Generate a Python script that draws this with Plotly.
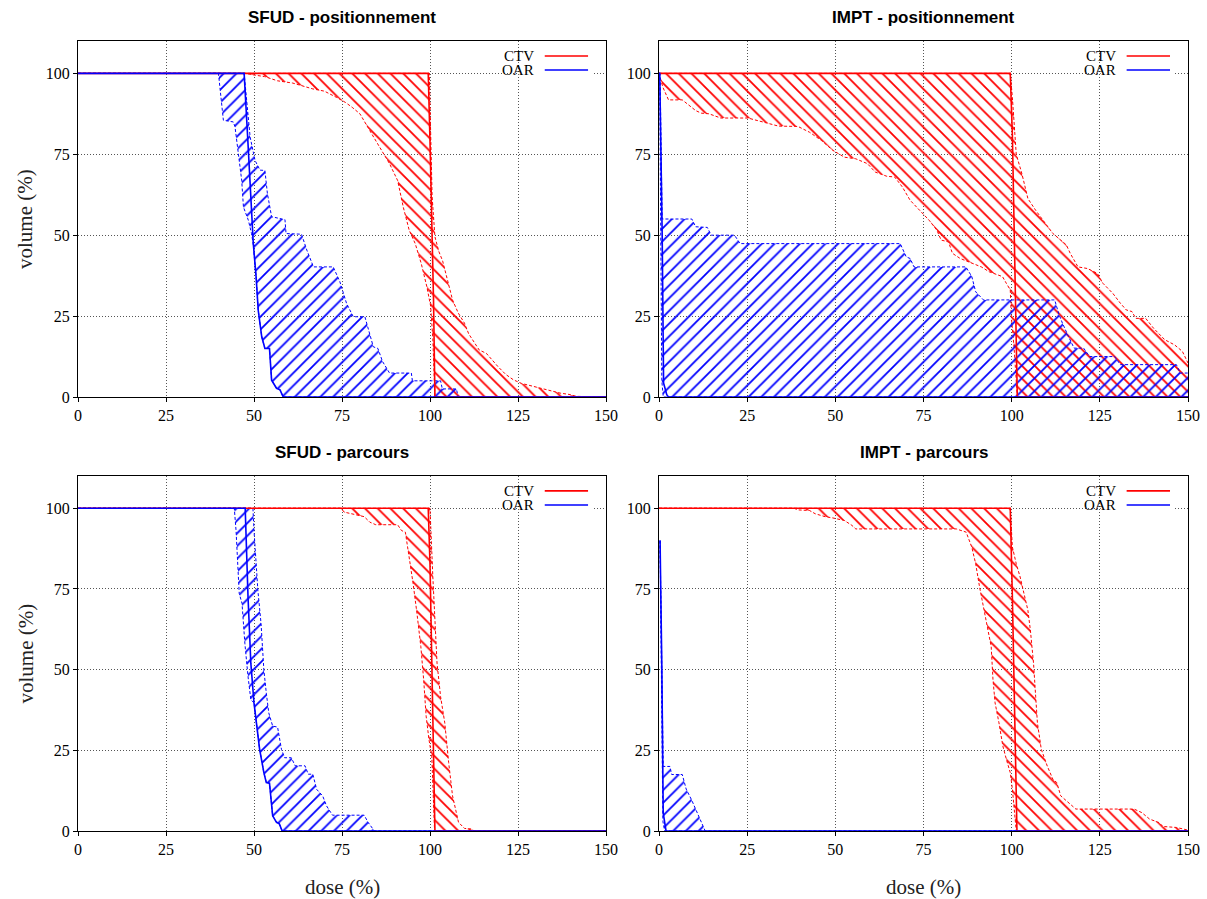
import plotly.graph_objects as go

# ---------------- dose-volume histograms: dose (%) / volume (%) ----------------
# Panel 1: SFUD - positionnement
SP_CTV_NOM_D = [0, 99.5, 100.0, 100.6, 101.0, 101.4, 150]
SP_CTV_NOM_V = [100, 100, 79, 50, 30, 0, 0]
SP_CTV_LO_D = [0, 47.5, 50, 53, 56.7, 61, 66.7, 70, 73.4, 76, 77.9, 80.1, 82.9, 85.7, 88.5,
               90.8, 92.4, 94.1, 95.8, 97.5, 99.1, 100.2, 100.8, 101.4, 150]
SP_CTV_LO_V = [100, 100, 99.5, 99, 97.7, 97, 95.2, 94.5, 92.6, 91, 89.5, 87.5, 82.3, 77.2, 72.1,
               66.9, 58.7, 51.5, 47.4, 41.3, 34.1, 28, 18, 0, 0]
SP_CTV_HI_D = [0, 99.8, 100.6, 101.4, 102.5, 103.6, 105, 106.4, 108, 109.8, 111, 112.6, 114, 116,
               117.5, 119.3, 121.5, 123.7, 126, 129.3, 133, 137, 139.5, 141.6, 150]
SP_CTV_HI_V = [100, 100, 62, 49.5, 45, 42, 36, 30, 26, 22.8, 19.5, 16.6, 14.5, 13.5,
               11.5, 9.4, 7, 5.3, 4.2, 3.3, 2.2, 1.2, 0.8, 0.2, 0]
SP_OAR_NOM_D = [0, 47.2, 48.2, 49.1, 49.8, 50.6, 51.2, 52.2, 53.1, 54.4, 55.0, 56.4, 57.4, 58.3, 150]
SP_OAR_NOM_V = [100, 100, 80.3, 60.8, 47.4, 37.1, 26.8, 18.6, 15.0, 15.0, 5.2, 2.7, 2.2, 0, 0]
SP_OAR_LO_D = [0, 39.9, 41.3, 44.1, 44.6, 45.5, 46.5, 47.0, 48.4, 49.3, 49.8, 50.6, 51.2, 52.2,
               53.1, 54.4, 55.0, 56.4, 57.4, 58.3, 150]
SP_OAR_LO_V = [100, 100, 85.5, 85, 83.5, 75.2, 67, 58.7, 54.6, 50.5, 47, 37, 26.8, 18.6,
               15, 15, 5.2, 2.7, 2.2, 0, 0]
SP_OAR_HI_D = [0, 47.2, 48.9, 50.3, 51.7, 53.1, 53.8, 55.0, 58.8, 59.1, 63.5, 65.0, 66.9, 72.5,
               74.4, 76.3, 78.2, 81.5, 83.9, 85.2, 86.5, 88.5, 94.7, 95.0, 103.0, 103.5, 107.5,
               108.0, 150]
SP_OAR_HI_V = [100, 100, 80.3, 73.1, 70.1, 70, 62.9, 55.7, 54.8, 50.5, 50.3, 45.4, 40.2, 40.2,
               35.6, 28.9, 24.8, 24.8, 15.5, 15, 11, 7.4, 7.4, 5, 5, 2.5, 2.5, 0, 0]

# Panel 2: IMPT - positionnement
IP_CTV_NOM_D = [0, 99.6, 100.2, 100.7, 101.3, 101.6, 150]
IP_CTV_NOM_V = [100, 100, 81, 50.5, 19.7, 0, 0]
IP_CTV_LO_D = [0, 1.1, 2.7, 6.6, 10.4, 12, 14.2, 17.5, 25.2, 29.6, 33.9, 39.4, 42.7, 46, 48.2,
               49.3, 52.6, 55.8, 59.1, 61.3, 64.6, 66.8, 69, 71.2, 73.9, 76.6, 78.8, 80, 82.1,
               83.2, 85.4, 88.7, 91.4, 93.6, 97.4, 98.5, 99.6, 99.9, 100.7, 101.6, 150]
IP_CTV_LO_V = [100, 95.7, 91.8, 91.8, 88.5, 87.7, 87.5, 86.2, 86.2, 84.9, 83.7, 83.6, 81.8, 79.3,
               77.2, 76.2, 74.1, 73.6, 72.1, 69.5, 68.2, 68, 64.9, 60.8, 57.7, 54.6, 51.5, 48.5,
               47.9, 44.4, 42.8, 41.3, 40.2, 38.7, 37.2, 35.1, 33.1, 24.8, 15, 0, 0]
IP_CTV_HI_D = [0, 99.6, 100.2, 101.3, 102.9, 104.6, 106.8, 108.9, 111.7, 113.9, 115.5, 116.6,
               118.8, 121.5, 124.3, 125.9, 128.7, 130.8, 132.5, 134.1, 135.2, 138, 140.2, 143.4,
               146.2, 148.4, 150]
IP_CTV_HI_V = [100, 100, 92.6, 75, 69, 61.3, 57.7, 54.6, 50.5, 48.5, 47, 44.4, 40.2, 39.7, 38.2,
               35.1, 32, 29, 26.9, 26.4, 24.3, 24.3, 21.3, 17.7, 16.1, 14.1, 10.5]
IP_OAR_NOM_D = [0, 0.2, 0.9, 1.3, 2.2, 2.7, 150]
IP_OAR_NOM_V = [100, 100, 50.5, 4.3, 0.7, 0, 0]
IP_OAR_LO_D = [0, 0.2, 0.5, 0.8, 1.2, 150]
IP_OAR_LO_V = [100, 100, 50, 5, 0, 0]
IP_OAR_HI_D = [0, 0.3, 0.9, 9.3, 10.4, 13.7, 14.8, 21.4, 23, 68.4, 70.1, 71.2, 72.3, 87, 88.7,
               89.8, 92, 112.2, 113.3, 114.4, 116.1, 117.7, 120.4, 122.1, 129.2, 130.8, 146.7,
               147.8, 150]
IP_OAR_HI_V = [100, 100, 55, 55, 52.6, 52.4, 50, 50, 47.4, 47.4, 43.3, 42.8, 40.2, 40.2, 37.2,
               32.5, 30, 30, 25.9, 22.8, 18.7, 15.1, 15.1, 12.5, 12.5, 10, 10, 7.4, 7.4]

# Panel 3: SFUD - parcours
SR_CTV_NOM_D = [0, 99.5, 100.0, 100.6, 101.0, 101.4, 150]
SR_CTV_NOM_V = [100, 100, 82.8, 52, 21, 0, 0]
SR_CTV_LO_D = [0, 74.5, 75.7, 77.9, 81.3, 82.9, 84.6, 90.8, 91.9, 93.0, 94.1, 95.2, 96.3, 97.4,
               98.2, 98.9, 99.7, 100.5, 101.3, 150]
SR_CTV_LO_V = [100, 100, 98.8, 98.3, 97.4, 95.7, 94.9, 94.9, 93.1, 92.6, 84.9, 76.7, 67.4, 57.1,
               46.9, 35.6, 28.4, 23.2, 0, 0]
SR_CTV_HI_D = [0, 100.0, 100.8, 101.4, 102.0, 103.0, 104.2, 105.3, 106.4, 108.1, 109.8, 112.0,
               112.5, 150]
SR_CTV_HI_V = [100, 100, 78.9, 67.4, 52, 41.7, 33.5, 21.2, 10.9, 2.7, 0.8, 0.6, 0, 0]
SR_OAR_NOM_D = [0, 47.5, 48.3, 49.1, 50.0, 50.9, 51.6, 52.8, 53.5, 54.4, 55.3, 56.4, 57.2, 58.0, 150]
SR_OAR_NOM_V = [100, 100, 72.6, 52, 39.7, 31.5, 25.3, 18.1, 15, 14.8, 4.7, 2.7, 2.2, 0, 0]
SR_OAR_LO_D = [0, 44.4, 44.9, 45.8, 46.6, 47.4, 48.3, 49.1, 50.0, 50.9, 51.6, 52.8, 53.5, 54.4,
               55.3, 56.4, 57.2, 58.0, 150]
SR_OAR_LO_V = [100, 100, 93.1, 73.6, 70.5, 58.2, 47.9, 40.7, 39.7, 31.5, 25.3, 18.1, 15, 14.8,
               4.7, 2.7, 2.2, 0, 0]
SR_OAR_HI_D = [0, 49.7, 50.0, 51.1, 52.0, 52.8, 53.5, 54.2, 55.3, 56.7, 57.8, 58.7, 60.6, 61.7,
               64.5, 65.4, 66.7, 67.8, 69.5, 70.6, 72.3, 81.3, 82.4, 84.0, 84.2, 150]
SR_OAR_HI_V = [100, 100, 93.1, 74.6, 64.3, 49.9, 42.7, 36.6, 32.5, 32.2, 25.3, 22.7, 22.7, 20.2,
               20.2, 17.6, 17.6, 12.9, 10.9, 7.8, 4.9, 4.9, 2.7, 0.6, 0, 0]

# Panel 4: IMPT - parcours
IR_CTV_NOM_D = [0, 99.6, 100.2, 100.7, 101.3, 101.5, 150]
IR_CTV_NOM_V = [100, 100, 72.6, 41.8, 10.9, 0, 0]
IR_CTV_LO_D = [0, 38.3, 39.4, 42.7, 44.3, 47.1, 49.3, 52.6, 54.7, 55.8, 84.3, 87.1, 88.7, 89.8,
               90.9, 92.0, 93.1, 94.2, 94.7, 95.3, 96.4, 97.5, 98.5, 99.6, 100.2, 100.7, 101.3, 150]
IR_CTV_LO_V = [100, 100, 99.5, 99.3, 98.3, 97.4, 97, 96.2, 94.7, 93.6, 93.6, 92.6, 87.9, 82.8,
               75.6, 69.4, 64.3, 57.1, 46.9, 39.7, 33.5, 26.3, 22.2, 18.1, 13, 5.8, 0, 0]
IR_CTV_HI_D = [0, 99.6, 100.2, 101.3, 102.4, 103.5, 104.6, 105.3, 106.2, 106.8, 107.3, 108.4,
               110.1, 111.7, 112.8, 113.9, 116.1, 118.2, 134.7, 136.9, 139.1, 141.8, 142.9,
               146.7, 149.5, 150]
IR_CTV_HI_V = [100, 100, 88, 82.8, 78.7, 73.6, 68.4, 62.3, 52, 41.8, 33.5, 25.3, 20.1, 16, 15,
               10.9, 8.8, 6.8, 6.8, 5.7, 3.7, 2.6, 1.4, 1.1, 0.4, 0.3]
IR_OAR_NOM_D = [0.3, 0.5, 0.8, 1.2, 2.0, 150]
IR_OAR_NOM_V = [90, 75, 51, 5.5, 0, 0]
IR_OAR_LO_D = [0.3, 0.5, 0.8, 1.1, 1.6, 150]
IR_OAR_LO_V = [90, 70, 40, 3, 0, 0]
IR_OAR_HI_D = [0.3, 0.6, 1.0, 1.2, 3.1, 3.6, 6.6, 7.7, 9.3, 11.0, 12.6, 13.1, 150]
IR_OAR_HI_V = [90, 60, 25, 20, 20, 17.5, 17.5, 13, 9.5, 5, 1, 0, 0]

TITLES = ["SFUD - positionnement", "IMPT - positionnement", "SFUD - parcours", "IMPT - parcours"]
X_TICKS = [0, 25, 50, 75, 100, 125, 150]
Y_TICKS = [0, 25, 50, 75, 100]

RED = "#ff0000"
BLUE = "#0000ff"
SERIF = "Liberation Serif"
SANS = "Liberation Sans"

W, H = 1207, 899
# plot-area boxes in pixels: (left, right) and (top, bottom)
COLS = [(78, 606), (659, 1188)]
ROWS = [(41, 397), (476, 831)]

panels = [
    dict(ctv=(SP_CTV_NOM_D, SP_CTV_NOM_V, SP_CTV_LO_D, SP_CTV_LO_V, SP_CTV_HI_D, SP_CTV_HI_V),
         oar=(SP_OAR_NOM_D, SP_OAR_NOM_V, SP_OAR_LO_D, SP_OAR_LO_V, SP_OAR_HI_D, SP_OAR_HI_V)),
    dict(ctv=(IP_CTV_NOM_D, IP_CTV_NOM_V, IP_CTV_LO_D, IP_CTV_LO_V, IP_CTV_HI_D, IP_CTV_HI_V),
         oar=(IP_OAR_NOM_D, IP_OAR_NOM_V, IP_OAR_LO_D, IP_OAR_LO_V, IP_OAR_HI_D, IP_OAR_HI_V)),
    dict(ctv=(SR_CTV_NOM_D, SR_CTV_NOM_V, SR_CTV_LO_D, SR_CTV_LO_V, SR_CTV_HI_D, SR_CTV_HI_V),
         oar=(SR_OAR_NOM_D, SR_OAR_NOM_V, SR_OAR_LO_D, SR_OAR_LO_V, SR_OAR_HI_D, SR_OAR_HI_V)),
    dict(ctv=(IR_CTV_NOM_D, IR_CTV_NOM_V, IR_CTV_LO_D, IR_CTV_LO_V, IR_CTV_HI_D, IR_CTV_HI_V),
         oar=(IR_OAR_NOM_D, IR_OAR_NOM_V, IR_OAR_LO_D, IR_OAR_LO_V, IR_OAR_HI_D, IR_OAR_HI_V)),
]

fig = go.Figure()
annotations = []
shapes = []
layout_axes = {}


def band(xa, ya, hi_d, hi_v, lo_d, lo_v, color, shape):
    dash = dict(color=color, width=1, dash="3px,2px")
    fig.add_trace(go.Scatter(x=hi_d, y=hi_v, mode="lines", line=dash,
                             xaxis=xa, yaxis=ya, showlegend=False, hoverinfo="skip"))
    fig.add_trace(go.Scatter(x=lo_d, y=lo_v, mode="lines", line=dash,
                             fill="tonexty", fillcolor="rgba(255,255,255,0)",
                             fillpattern=dict(shape=shape, fgcolor=color, fgopacity=1,
                                              bgcolor="rgba(255,255,255,0)",
                                              size=9, solidity=0.2),
                             xaxis=xa, yaxis=ya, showlegend=False, hoverinfo="skip"))


for i, p in enumerate(panels):
    n = i + 1
    xa = "x" if n == 1 else f"x{n}"
    ya = "y" if n == 1 else f"y{n}"
    col, row = i % 2, i // 2
    (l, r), (t, b) = COLS[col], ROWS[row]
    xdom = [l / W, r / W]
    ydom = [(H - b) / H, (H - t) / H]

    c_nd, c_nv, c_ld, c_lv, c_hd, c_hv = p["ctv"]
    o_nd, o_nv, o_ld, o_lv, o_hd, o_hv = p["oar"]

    band(xa, ya, c_hd, c_hv, c_ld, c_lv, RED, "\\")
    band(xa, ya, o_hd, o_hv, o_ld, o_lv, BLUE, "/")
    fig.add_trace(go.Scatter(x=c_nd, y=c_nv, mode="lines", line=dict(color=RED, width=1.6),
                             xaxis=xa, yaxis=ya, showlegend=False, hoverinfo="skip"))
    fig.add_trace(go.Scatter(x=o_nd, y=o_nv, mode="lines", line=dict(color=BLUE, width=1.6),
                             xaxis=xa, yaxis=ya, showlegend=False, hoverinfo="skip"))

    common = dict(showline=True, mirror=True, linecolor="black", linewidth=1.3,
                  showgrid=True, gridcolor="#555555", griddash="1px,2px", gridwidth=1,
                  zeroline=False, ticks="outside", ticklen=4, tickcolor="black",
                  automargin=False,
                  tickfont=dict(family=SERIF, size=16, color="black"))
    key_x = "xaxis" if n == 1 else f"xaxis{n}"
    key_y = "yaxis" if n == 1 else f"yaxis{n}"
    layout_axes[key_x] = dict(domain=xdom, range=[0, 150], anchor=ya,
                              tickvals=X_TICKS, **common)
    layout_axes[key_y] = dict(domain=ydom, range=[0, 110], anchor=xa,
                              tickvals=Y_TICKS, **common)

    # panel title
    annotations.append(dict(text=TITLES[i], xref="paper", yref="paper",
                            x=(xdom[0] + xdom[1]) / 2, y=(H - (t - 24)) / H,
                            xanchor="center", yanchor="middle", showarrow=False,
                            font=dict(family=SANS, size=17, color="black", weight="bold")))

    # in-plot key: label text on the left, line sample on the right
    xd = f"{xa} domain"
    yd = f"{ya} domain"
    shapes.append(dict(type="rect", xref=xd, yref=yd, x0=0.835, x1=0.975, y0=0.9, y1=0.98,
                       fillcolor="white", line=dict(width=0), layer="above"))
    for lbl, color, yy in (("CTV", RED, 0.958), ("OAR", BLUE, 0.9185)):
        shapes.append(dict(type="line", xref=xd, yref=yd, x0=0.884, x1=0.966, y0=yy, y1=yy,
                           line=dict(color=color, width=1.6), layer="above"))
        annotations.append(dict(text=lbl, xref=xd, yref=yd, x=0.868, y=yy,
                                xanchor="right", yanchor="middle", showarrow=False,
                                font=dict(family=SERIF, size=15, color="black")))

    # axis titles
    if col == 0:
        annotations.append(dict(text="volume (%)", xref="paper", yref="paper",
                                x=25 / W, y=(ydom[0] + ydom[1]) / 2, textangle=-90,
                                xanchor="center", yanchor="middle", showarrow=False,
                                font=dict(family=SERIF, size=21, color="#222")))
    if row == 1:
        annotations.append(dict(text="dose (%)", xref="paper", yref="paper",
                                x=(xdom[0] + xdom[1]) / 2, y=(H - 887) / H,
                                xanchor="center", yanchor="middle", showarrow=False,
                                font=dict(family=SERIF, size=21, color="#222")))

fig.update_layout(width=W, height=H, autosize=False, showlegend=False,
                  margin=dict(l=0, r=0, t=0, b=0),
                  paper_bgcolor="white", plot_bgcolor="white",
                  annotations=annotations, shapes=shapes, **layout_axes)

fig.write_html("out.html")
